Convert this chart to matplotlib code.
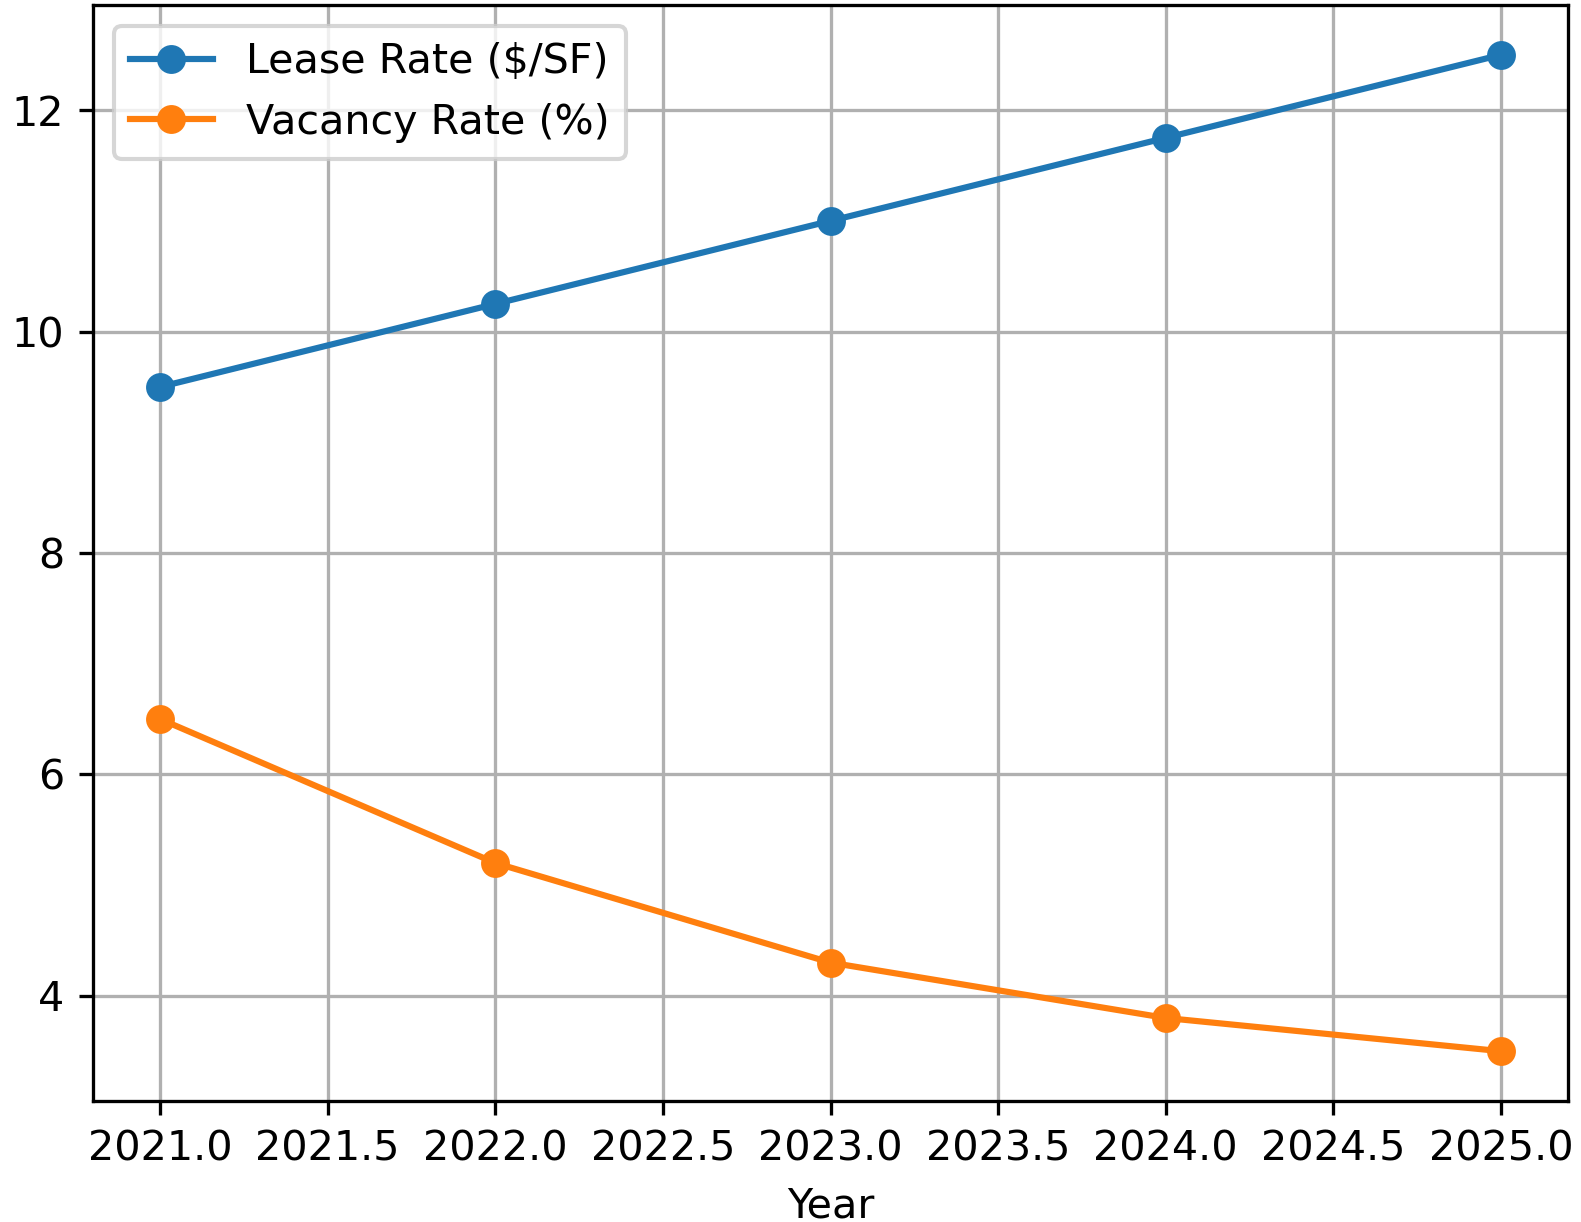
import matplotlib
matplotlib.use("Agg")
import matplotlib.pyplot as plt

years = [2021, 2022, 2023, 2024, 2025]
lease_rate = [9.5, 10.25, 11.0, 11.75, 12.5]
vacancy_rate = [6.5, 5.2, 4.3, 3.8, 3.5]

DPI = 297
W, H = 1581, 1222
fig = plt.figure(figsize=(W / DPI, H / DPI), dpi=DPI)
ax = fig.add_axes([93 / W, 1 - 1101 / H, 1475 / W, 1096 / H])

ax.plot(years, lease_rate, marker='o', label='Lease Rate ($/SF)')
ax.plot(years, vacancy_rate, marker='o', label='Vacancy Rate (%)')
ax.set_xlabel('Year')
ax.legend(loc='upper left')
ax.grid(True)

fig.savefig('out.png', dpi=DPI)
